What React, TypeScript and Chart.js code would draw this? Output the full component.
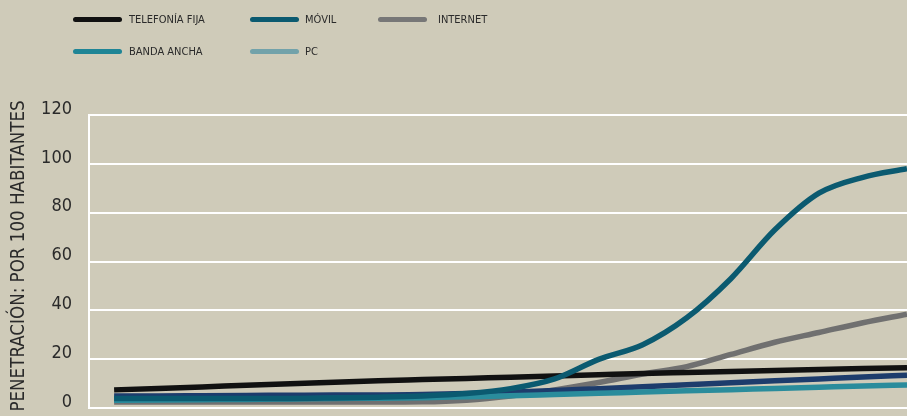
import React, { useEffect, useRef } from "react";
import { Chart, registerables } from "chart.js";

Chart.register(...registerables);

const years = [1990, 1991, 1992, 1993, 1994, 1995, 1996, 1997, 1998, 1999, 2000, 2001, 2002, 2003, 2004, 2005, 2006, 2007, 2008];
const telefoniaFija = [7.5, 8.1, 8.7, 9.4, 10, 10.6, 11.2, 11.7, 12.2, 12.7, 13.2, 13.7, 14.2, 14.6, 15, 15.4, 15.8, 16.2, 16.6];
const movil = [4, 4, 4, 4, 4, 4.2, 4.5, 5, 6, 8, 12, 20, 26, 37, 53, 73, 88, 94.5, 98];
const internet = [2.5, 2.5, 2.5, 2.5, 2.5, 2.5, 2.5, 2.6, 3.3, 5, 7.5, 10.5, 14, 17, 22, 27, 31, 35, 38.5];
const bandaAncha = [5, 5, 5.1, 5.2, 5.3, 5.4, 5.4, 5.6, 6, 6.5, 7.2, 8, 8.8, 9.6, 10.4, 11.2, 12, 12.8, 13.5];
const pc = [3.3, 3.4, 3.5, 3.6, 3.8, 4, 4.1, 4.3, 4.7, 5.1, 5.6, 6.1, 6.6, 7.1, 7.6, 8.1, 8.6, 9.1, 9.5];
const yTicks = [0, 20, 40, 60, 80, 100, 120];
const yTitle = "PENETRACIÓN: POR 100 HABITANTES";

const seriesNames = ["TELEFONÍA FIJA", "MÓVIL", "INTERNET", "BANDA ANCHA", "PC"];
const seriesValues = [telefoniaFija, movil, internet, bandaAncha, pc];
const lineColors = ["#111111", "#0b5a70", "#707070", "#1d3c6c", "#2a8c9c"];
const legendColors = ["#111111", "#0b5a70", "#777777", "#1f8596", "#72a2aa"];
const drawOrder = [2, 0, 3, 4, 1];

const BG = "#cfcbb9";
const FONT = "'Liberation Sans Narrow', 'DejaVu Sans Condensed', 'Roboto', sans-serif";

const legendLayout = [
  { line: 73, text: 129, y: 19.5 },
  { line: 250, text: 305, y: 19.5 },
  { line: 378, text: 438, y: 19.5 },
  { line: 73, text: 129, y: 51.5 },
  { line: 250, text: 305, y: 51.5 },
];

const yTitlePlugin = {
  id: "yTitleText",
  afterDraw(chart: any) {
    const c = chart.ctx;
    c.save();
    c.translate(19, 256);
    c.rotate(-Math.PI / 2);
    c.font = `18.6px ${FONT}`;
    c.fillStyle = "#2a2a2a";
    c.textAlign = "center";
    c.textBaseline = "middle";
    c.fillText(yTitle, 0, 0);
    c.restore();
  },
};

export default function App() {
  const ref = useRef<HTMLCanvasElement | null>(null);

  useEffect(() => {
    document.body.style.margin = "0";
    document.body.style.background = BG;
    const ctx = ref.current!;
    const chart = new Chart(ctx, {
      type: "line",
      data: {
        datasets: drawOrder.map((i) => ({
          label: seriesNames[i],
          data: years.map((yr, k) => ({ x: yr, y: seriesValues[i][k] })),
          borderColor: lineColors[i],
          backgroundColor: lineColors[i],
          borderWidth: 5.5,
          pointRadius: 0,
          cubicInterpolationMode: "monotone" as const,
          fill: false,
          order: drawOrder.length - drawOrder.indexOf(i),
        })),
      },
      plugins: [yTitlePlugin],
      options: {
        animation: false,
        responsive: false,
        maintainAspectRatio: false,
        layout: { padding: { left: 0, right: 0, top: 115, bottom: 0 } },
        plugins: { legend: { display: false }, tooltip: { enabled: false } },
        scales: {
          x: {
            type: "linear",
            display: false,
            min: 1989.43,
            max: 2008,
          },
          y: {
            min: 0,
            max: 120,
            afterFit: (s: any) => {
              s.width = 89;
            },
            afterBuildTicks: (s: any) => {
              s.ticks = yTicks.map((v) => ({ value: v }));
            },
            border: { display: true, color: "#ffffff", width: 2 },
            grid: { color: "#ffffff", lineWidth: 2, drawTicks: false },
            ticks: {
              color: "#2a2a2a",
              font: { family: FONT, size: 18 },
              padding: 17,
              labelOffset: -6,
            },
          },
        },
      },
    });
    return () => chart.destroy();
  }, []);

  return (
    <div style={{ position: "absolute", left: 0, top: 0, width: 907, height: 416, background: BG, overflow: "hidden" }}>
      <canvas ref={ref} width={907} height={436} style={{ position: "absolute", left: 0, top: 0, width: 907, height: 436 }} />
      {seriesNames.map((name, i) => (
        <React.Fragment key={name}>
          <div
            style={{
              position: "absolute",
              left: legendLayout[i].line,
              top: legendLayout[i].y - 2.5,
              width: 49,
              height: 5,
              borderRadius: 3,
              background: legendColors[i],
            }}
          />
          <div
            style={{
              position: "absolute",
              left: legendLayout[i].text,
              top: legendLayout[i].y - 8,
              height: 16,
              lineHeight: "16px",
              fontFamily: FONT,
              fontSize: 11,
              color: "#2a2a2a",
              whiteSpace: "nowrap",
            }}
          >
            {name}
          </div>
        </React.Fragment>
      ))}
    </div>
  );
}
